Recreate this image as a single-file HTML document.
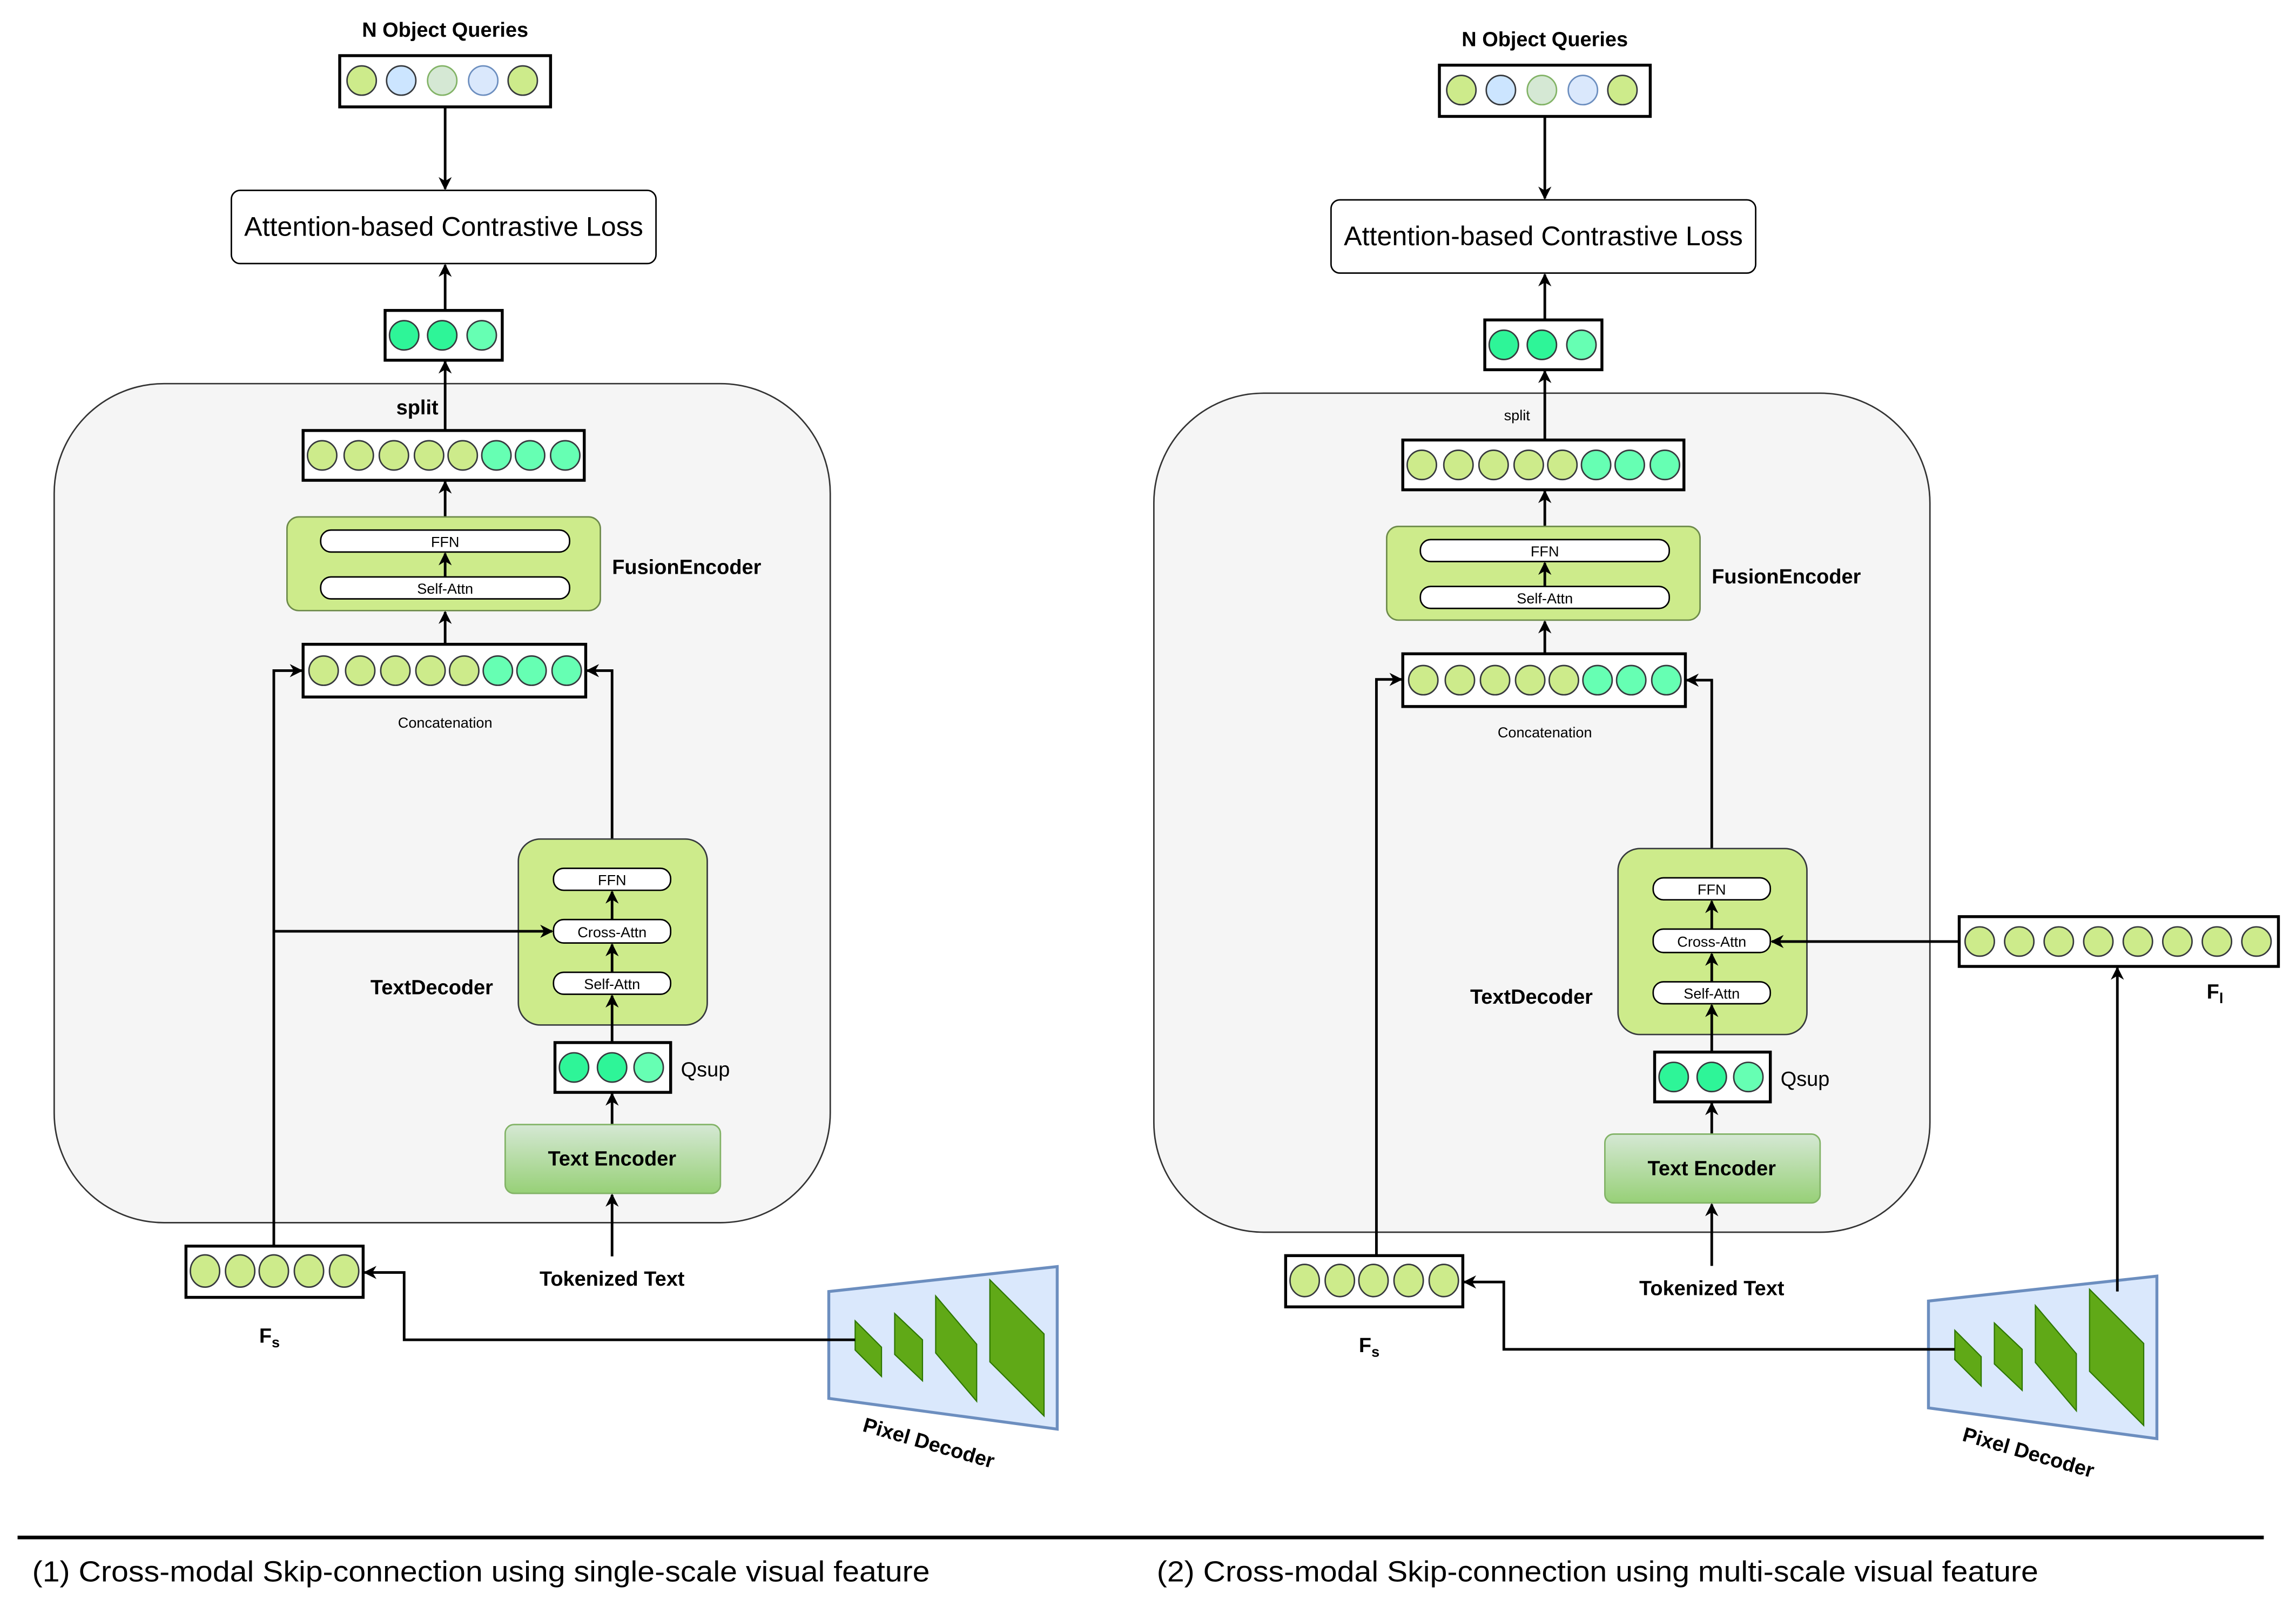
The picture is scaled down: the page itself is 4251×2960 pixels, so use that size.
<!DOCTYPE html>
<html><head><meta charset="utf-8"><style>html,body{margin:0;padding:0;background:#fff}svg{display:block}</style></head>
<body>
<svg width="4251" height="2960" viewBox="0 0 1568 1092" preserveAspectRatio="none" xmlns="http://www.w3.org/2000/svg" font-family="'Liberation Sans', Arial, sans-serif">
<defs>
<marker id="a" viewBox="0 0 10 10" refX="9" refY="5" markerWidth="9" markerHeight="9" markerUnits="userSpaceOnUse" orient="auto"><path d="M0,0 L10,5 L0,10 L3,5 z" fill="#000"/></marker>
<linearGradient id="te" x1="0" y1="0" x2="0" y2="1"><stop offset="0" stop-color="#d5e8d4"/><stop offset="1" stop-color="#97d077"/></linearGradient>
<g id="common">
  <text x="304" y="25" font-size="14" font-weight="bold" text-anchor="middle">N Object Queries</text>
  <rect x="232" y="38" width="144" height="35" fill="#fff" stroke="#000" stroke-width="2"/>
  <g stroke-width="1">
  <circle cx="247" cy="55" r="10" fill="#cdeb8b" stroke="#36393d"/>
  <circle cx="274" cy="55" r="10" fill="#cce5ff" stroke="#36393d"/>
  <circle cx="302" cy="55" r="10" fill="#d5e8d4" stroke="#82b366"/>
  <circle cx="330" cy="55" r="10" fill="#dae8fc" stroke="#6c8ebf"/>
  <circle cx="357" cy="55" r="10" fill="#cdeb8b" stroke="#36393d"/>
  </g>
  <line x1="304" y1="73" x2="304" y2="129" stroke="#000" stroke-width="1.8" marker-end="url(#a)"/>
  <rect x="158" y="130" width="290" height="50" rx="6" fill="#fff" stroke="#000" stroke-width="1"/>
  <text x="303" y="161" font-size="18.5" text-anchor="middle">Attention-based Contrastive Loss</text>
  <line x1="304" y1="212" x2="304" y2="181" stroke="#000" stroke-width="1.8" marker-end="url(#a)"/>
  <rect x="263" y="212" width="80" height="34" fill="#fff" stroke="#000" stroke-width="2"/>
  <circle cx="276" cy="229" r="10" fill="#2ef598" stroke="#36393d"/>
  <circle cx="302" cy="229" r="10" fill="#2ef598" stroke="#36393d"/>
  <circle cx="329" cy="229" r="10" fill="#66ffb3" stroke="#36393d"/>
  <rect x="37" y="262" width="530" height="573" rx="75" fill="#f5f5f5" stroke="#333" stroke-width="1"/>
  <line x1="304" y1="294" x2="304" y2="247" stroke="#000" stroke-width="1.8" marker-end="url(#a)"/>
  <rect x="207" y="294" width="192" height="34" fill="#fff" stroke="#000" stroke-width="2"/>
  <g stroke="#36393d">
  <circle cx="220" cy="311" r="10" fill="#cdeb8b"/><circle cx="245" cy="311" r="10" fill="#cdeb8b"/><circle cx="269" cy="311" r="10" fill="#cdeb8b"/><circle cx="293" cy="311" r="10" fill="#cdeb8b"/><circle cx="316" cy="311" r="10" fill="#cdeb8b"/><circle cx="339" cy="311" r="10" fill="#66ffb3"/><circle cx="362" cy="311" r="10" fill="#66ffb3"/><circle cx="386" cy="311" r="10" fill="#66ffb3"/>
  </g>
  <line x1="304" y1="353" x2="304" y2="329" stroke="#000" stroke-width="1.8" marker-end="url(#a)"/>
  <rect x="196" y="353" width="214" height="64" rx="8" fill="#cdeb8b" stroke="#6d8a4a" stroke-width="1"/>
  <rect x="219" y="362" width="170" height="15" rx="7" fill="#fff" stroke="#000" stroke-width="1"/>
  <text x="304" y="373.5" font-size="10" text-anchor="middle">FFN</text>
  <rect x="219" y="394" width="170" height="15" rx="7" fill="#fff" stroke="#000" stroke-width="1"/>
  <text x="304" y="405.5" font-size="10" text-anchor="middle">Self-Attn</text>
  <line x1="304" y1="394" x2="304" y2="378" stroke="#000" stroke-width="1.8" marker-end="url(#a)"/>
  <text x="418" y="392" font-size="14" font-weight="bold">FusionEncoder</text>
  <line x1="304" y1="440" x2="304" y2="418" stroke="#000" stroke-width="1.8" marker-end="url(#a)"/>
  <rect x="207" y="440" width="193" height="36" fill="#fff" stroke="#000" stroke-width="2"/>
  <g stroke="#36393d">
  <circle cx="221" cy="458" r="10" fill="#cdeb8b"/><circle cx="246" cy="458" r="10" fill="#cdeb8b"/><circle cx="270" cy="458" r="10" fill="#cdeb8b"/><circle cx="294" cy="458" r="10" fill="#cdeb8b"/><circle cx="317" cy="458" r="10" fill="#cdeb8b"/><circle cx="340" cy="458" r="10" fill="#66ffb3"/><circle cx="363" cy="458" r="10" fill="#66ffb3"/><circle cx="387" cy="458" r="10" fill="#66ffb3"/>
  </g>
  <text x="304" y="497" font-size="10" text-anchor="middle">Concatenation</text>
  <polyline points="418,573 418,458 401,458" fill="none" stroke="#000" stroke-width="1.8" marker-end="url(#a)"/>
  <rect x="354" y="573" width="129" height="127" rx="15" fill="#cdeb8b" stroke="#36393d" stroke-width="1"/>
  <rect x="378" y="593" width="80" height="15" rx="7" fill="#fff" stroke="#000"/>
  <text x="418" y="604.5" font-size="10" text-anchor="middle">FFN</text>
  <rect x="378" y="628" width="80" height="16" rx="7" fill="#fff" stroke="#000"/>
  <text x="418" y="640" font-size="10" text-anchor="middle">Cross-Attn</text>
  <rect x="378" y="664" width="80" height="15" rx="7" fill="#fff" stroke="#000"/>
  <text x="418" y="675.5" font-size="10" text-anchor="middle">Self-Attn</text>
  <line x1="418" y1="628" x2="418" y2="609" stroke="#000" stroke-width="1.8" marker-end="url(#a)"/>
  <line x1="418" y1="664" x2="418" y2="645" stroke="#000" stroke-width="1.8" marker-end="url(#a)"/>
  <line x1="418" y1="712" x2="418" y2="680" stroke="#000" stroke-width="1.8" marker-end="url(#a)"/>
  <text x="253" y="679" font-size="14" font-weight="bold">TextDecoder</text>
  <rect x="379" y="712" width="79" height="34" fill="#fff" stroke="#000" stroke-width="2"/>
  <circle cx="392" cy="729" r="10" fill="#2ef598" stroke="#36393d"/>
  <circle cx="418" cy="729" r="10" fill="#2ef598" stroke="#36393d"/>
  <circle cx="443" cy="729" r="10" fill="#66ffb3" stroke="#36393d"/>
  <text x="465" y="735" font-size="14">Qsup</text>
  <line x1="418" y1="768" x2="418" y2="747" stroke="#000" stroke-width="1.8" marker-end="url(#a)"/>
  <rect x="345" y="768" width="147" height="47" rx="6" fill="url(#te)" stroke="#82b366"/>
  <text x="418" y="796" font-size="14" font-weight="bold" text-anchor="middle">Text Encoder</text>
  <line x1="418" y1="858" x2="418" y2="816" stroke="#000" stroke-width="1.8" marker-end="url(#a)"/>
  <text x="418" y="878" font-size="14" font-weight="bold" text-anchor="middle">Tokenized Text</text>
  <rect x="127" y="851" width="121" height="35" fill="#fff" stroke="#000" stroke-width="2"/>
  <g fill="#cdeb8b" stroke="#36393d">
  <ellipse cx="140" cy="868" rx="10" ry="11"/><ellipse cx="164" cy="868" rx="10" ry="11"/><ellipse cx="187" cy="868" rx="10" ry="11"/><ellipse cx="211" cy="868" rx="10" ry="11"/><ellipse cx="235" cy="868" rx="10" ry="11"/>
  </g>
  <text x="177" y="917" font-size="14" font-weight="bold">F<tspan font-size="10" dy="3">s</tspan></text>
  <polygon points="566,882 722,865 722,976 566,955" fill="#dae8fc" stroke="#6c8ebf" stroke-width="2"/>
  <g fill="#60a917" stroke="#2d7600" stroke-width="0.8">
  <polygon points="584,902 602,920 602,940 584,922"/>
  <polygon points="611,897 630,915 630,943 611,925"/>
  <polygon points="639,885 667,918 667,957 639,924"/>
  <polygon points="676,874 713,911 713,967 676,930"/>
  </g>
  <polyline points="584,915 276,915 276,869 249,869" fill="none" stroke="#000" stroke-width="1.8" marker-end="url(#a)"/>
  <text x="633" y="990" font-size="14" font-weight="bold" text-anchor="middle" transform="rotate(16 633 990)">Pixel Decoder</text>
</g>
</defs>

<use href="#common"/>
<text x="285" y="283" font-size="14" font-weight="bold" text-anchor="middle">split</text>
<polyline points="187,851 187,458 206,458" fill="none" stroke="#000" stroke-width="1.8" marker-end="url(#a)"/>
<polyline points="187,636 377,636" fill="none" stroke="#000" stroke-width="1.8" marker-end="url(#a)"/>

<use href="#common" transform="translate(751,6.5)"/>
<text x="1036" y="287" font-size="10" text-anchor="middle">split</text>
<polyline points="940,857 940,464 957,464" fill="none" stroke="#000" stroke-width="1.8" marker-end="url(#a)"/>
<rect x="1338" y="626" width="218" height="34" fill="#fff" stroke="#000" stroke-width="2"/>
<g fill="#cdeb8b" stroke="#36393d">
<circle cx="1352" cy="643" r="10"/><circle cx="1379" cy="643" r="10"/><circle cx="1406" cy="643" r="10"/><circle cx="1433" cy="643" r="10"/><circle cx="1460" cy="643" r="10"/><circle cx="1487" cy="643" r="10"/><circle cx="1514" cy="643" r="10"/><circle cx="1541" cy="643" r="10"/>
</g>
<line x1="1338" y1="643" x2="1210" y2="643" stroke="#000" stroke-width="1.8" marker-end="url(#a)"/>
<line x1="1446" y1="882" x2="1446" y2="661" stroke="#000" stroke-width="1.8" marker-end="url(#a)"/>
<text x="1507" y="682" font-size="14" font-weight="bold">F<tspan font-size="10" dy="3">l</tspan></text>

<line x1="12" y1="1050" x2="1546" y2="1050" stroke="#000" stroke-width="2.5"/>
<text x="22" y="1080" font-size="20" textLength="613" lengthAdjust="spacingAndGlyphs">(1) Cross-modal Skip-connection using single-scale visual feature</text>
<text x="790" y="1080" font-size="20" textLength="602" lengthAdjust="spacingAndGlyphs">(2) Cross-modal Skip-connection using multi-scale visual feature</text>
</svg>
</body></html>
